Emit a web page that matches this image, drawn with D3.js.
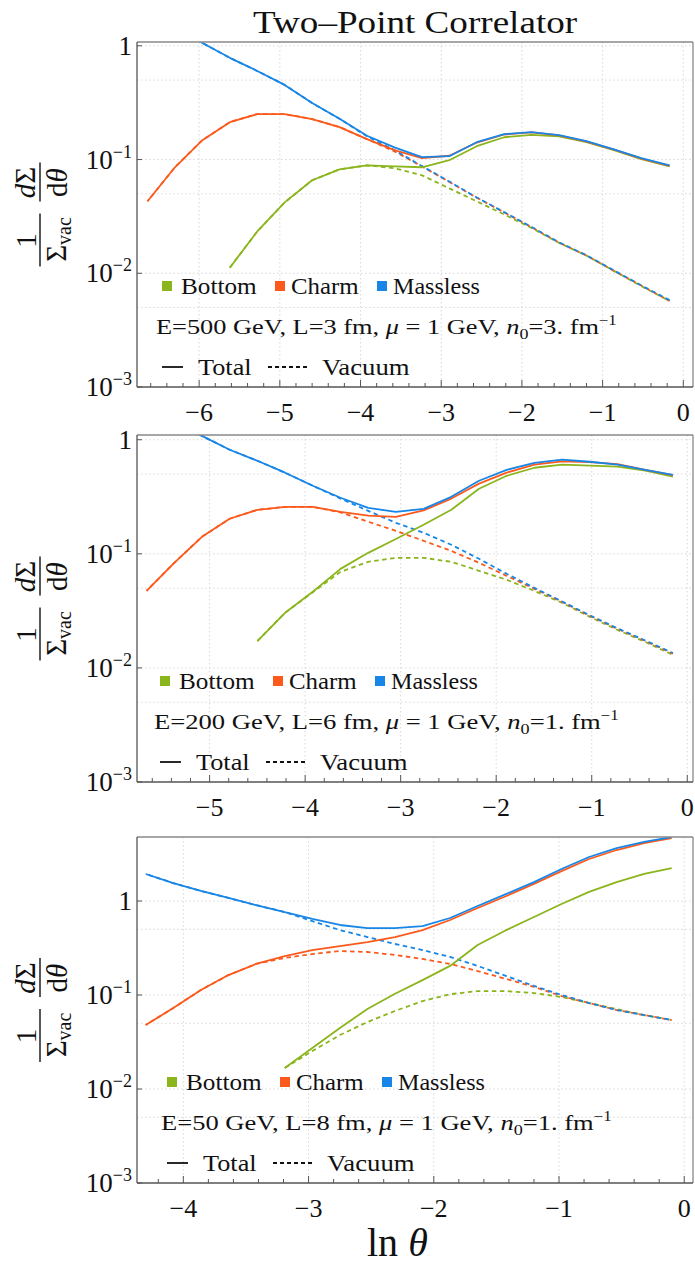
<!DOCTYPE html>
<html>
<head>
<meta charset="utf-8">
<script src="https://cdn.jsdelivr.net/npm/d3@7"></script>
<style>
body { margin: 0; background: #fff; }
svg { display: block; }
</style>
</head>
<body>
<script>
// ln(theta) sample points, one list per panel
var x1 = [-6.64, -6.30, -5.96, -5.62, -5.28, -4.94, -4.60, -4.26, -3.92, -3.58, -3.24, -2.90, -2.56, -2.22, -1.88, -1.54, -1.20, -0.86, -0.52, -0.17];
var x2 = [-5.66, -5.37, -5.08, -4.79, -4.50, -4.21, -3.92, -3.63, -3.34, -3.05, -2.76, -2.47, -2.18, -1.89, -1.60, -1.31, -1.02, -0.73, -0.44, -0.15];
var x3 = [-4.30, -4.08, -3.86, -3.64, -3.42, -3.19, -2.97, -2.75, -2.53, -2.31, -2.09, -1.87, -1.65, -1.42, -1.20, -0.98, -0.76, -0.54, -0.32, -0.10];

// E = 500 GeV, L = 3 fm
var bottomTotal1   = [null, null, null, 0.0112, 0.0233, 0.042, 0.0657, 0.082, 0.089, 0.087, 0.0855, 0.0986, 0.131, 0.157, 0.165, 0.160, 0.142, 0.121, 0.101, 0.087];
var bottomVac1     = [null, null, null, 0.0112, 0.0233, 0.042, 0.0657, 0.082, 0.089, 0.0838, 0.0727, 0.0558, 0.0429, 0.0329, 0.0250, 0.0185, 0.0143, 0.0105, 0.0077, 0.0057];
var charmTotal1    = [0.043, 0.0855, 0.148, 0.213, 0.251, 0.251, 0.227, 0.193, 0.151, 0.121, 0.103, 0.108, 0.141, 0.166, 0.173, 0.163, 0.144, 0.122, 0.102, 0.088];
var charmVac1      = [0.043, 0.0855, 0.148, 0.213, 0.251, 0.251, 0.227, 0.193, 0.151, 0.118, 0.0870, 0.0636, 0.0462, 0.0343, 0.0254, 0.0186, 0.0143, 0.0105, 0.0078, 0.0057];
var masslessTotal1 = [2.21, 1.53, 1.06, 0.784, 0.601, 0.453, 0.314, 0.228, 0.162, 0.128, 0.105, 0.107, 0.142, 0.167, 0.174, 0.164, 0.145, 0.123, 0.103, 0.089];
var masslessVac1   = [2.21, 1.53, 1.06, 0.784, 0.601, 0.453, 0.314, 0.228, 0.160, 0.121, 0.0877, 0.0641, 0.0464, 0.0345, 0.0255, 0.0187, 0.0144, 0.0106, 0.0078, 0.0058];

// E = 200 GeV, L = 6 fm
var bottomTotal2   = [null, null, null, null, 0.0172, 0.0304, 0.0465, 0.0738, 0.102, 0.135, 0.180, 0.243, 0.372, 0.483, 0.568, 0.604, 0.592, 0.580, 0.535, 0.474];
var bottomVac2     = [null, null, null, null, 0.0172, 0.0304, 0.0460, 0.0695, 0.0851, 0.0922, 0.0922, 0.0851, 0.0710, 0.0592, 0.0473, 0.0372, 0.0280, 0.0215, 0.0169, 0.0130];
var charmTotal2    = [0.0473, 0.0834, 0.141, 0.203, 0.243, 0.258, 0.258, 0.233, 0.216, 0.211, 0.240, 0.305, 0.412, 0.515, 0.605, 0.645, 0.635, 0.610, 0.545, 0.490];
var charmVac2      = [0.0473, 0.0834, 0.141, 0.203, 0.243, 0.258, 0.258, 0.231, 0.191, 0.159, 0.130, 0.106, 0.0834, 0.0641, 0.0493, 0.0379, 0.0286, 0.0220, 0.0172, 0.0133];
var masslessTotal2 = [1.95, 1.44, 1.08, 0.817, 0.654, 0.514, 0.395, 0.310, 0.253, 0.233, 0.248, 0.316, 0.437, 0.545, 0.628, 0.668, 0.641, 0.604, 0.545, 0.493];
var masslessVac2   = [1.95, 1.44, 1.08, 0.817, 0.654, 0.514, 0.395, 0.305, 0.238, 0.187, 0.153, 0.120, 0.0904, 0.0668, 0.0503, 0.0382, 0.0289, 0.0222, 0.0174, 0.0135];

// E = 50 GeV, L = 8 fm
var bottomTotal3   = [null, null, null, null, null, 0.0167, 0.0273, 0.0446, 0.0710, 0.103, 0.144, 0.204, 0.340, 0.491, 0.676, 0.929, 1.25, 1.59, 1.94, 2.24];
var bottomVac3     = [null, null, null, null, null, 0.0167, 0.0254, 0.0375, 0.0516, 0.0676, 0.0863, 0.102, 0.110, 0.110, 0.105, 0.0952, 0.0822, 0.0710, 0.0612, 0.0542];
var charmTotal3    = [0.048, 0.0728, 0.113, 0.163, 0.214, 0.260, 0.301, 0.332, 0.366, 0.414, 0.491, 0.628, 0.843, 1.13, 1.52, 2.08, 2.80, 3.49, 4.14, 4.68];
var charmVac3      = [0.048, 0.0728, 0.113, 0.163, 0.214, 0.248, 0.273, 0.294, 0.287, 0.267, 0.242, 0.214, 0.180, 0.148, 0.122, 0.0975, 0.0822, 0.0692, 0.0612, 0.0542];
var masslessTotal3 = [1.94, 1.55, 1.28, 1.08, 0.906, 0.764, 0.644, 0.556, 0.516, 0.516, 0.542, 0.660, 0.885, 1.19, 1.59, 2.19, 2.94, 3.66, 4.25, 4.80];
var masslessVac3   = [1.94, 1.55, 1.28, 1.08, 0.906, 0.764, 0.612, 0.491, 0.414, 0.349, 0.301, 0.254, 0.204, 0.159, 0.125, 0.100, 0.0822, 0.0692, 0.0612, 0.0542];

var xTicks1 = [-6, -5, -4, -3, -2, -1, 0];
var xTicks2 = [-5, -4, -3, -2, -1, 0];
var xTicks3 = [-4, -3, -2, -1, 0];
var yDecades = [0, -1, -2, -3];

var species = ["Bottom", "Charm", "Massless"];
var energies = ["500", "200", "50"];
var lengths = ["3", "6", "8"];
var densities = ["3.", "1.", "1."];

var colors = { Bottom: "#8bb51c", Charm: "#fb5a1c", Massless: "#1886e6" };

var width = 695, height = 1266;
var frameLeft = 137, frameRight = 693;
var serif = "'Liberation Serif', 'DejaVu Serif', serif";

var panels = [
    { top: 42, bottom: 387, xDomain: [-6.77, 0.12], yMax: 1.08, xs: x1, xTicks: xTicks1, lx: 162, pw: 461,
      series: [[bottomTotal1, bottomVac1], [charmTotal1, charmVac1], [masslessTotal1, masslessVac1]] },
    { top: 435, bottom: 782, xDomain: [-5.76, 0.06], yMax: 1.1, xs: x2, xTicks: xTicks2, lx: 160, pw: 465,
      series: [[bottomTotal2, bottomVac2], [charmTotal2, charmVac2], [masslessTotal2, masslessVac2]] },
    { top: 837, bottom: 1183, xDomain: [-4.37, 0.07], yMax: 4.8, xs: x3, xTicks: xTicks3, lx: 167, pw: 451,
      series: [[bottomTotal3, bottomVac3], [charmTotal3, charmVac3], [masslessTotal3, masslessVac3]] }
];

var svg = d3.select("body").append("svg")
    .attr("width", width)
    .attr("height", height)
    .attr("font-family", serif)
    .style("font-family", serif)
    .attr("fill", "#111");

// stretch a text horizontally so it spans w pixels from x0
function fitWidth(t, x0, w) {
    var bw = t.node().getBBox().width;
    var k = w / bw;
    t.attr("transform", "translate(" + x0 + ",0) scale(" + k + ",1) translate(" + (-x0) + ",0)");
}

var title = svg.append("text")
    .attr("x", 253).attr("y", 33)
    .style("font-size", "31px")
    .text("Two\u2013Point Correlator");
fitWidth(title, 253, 325);

panels.forEach(function(p, pi) {
    var x = d3.scaleLinear().domain(p.xDomain).range([frameLeft, frameRight]);
    var y = d3.scaleLog().domain([1e-3, p.yMax]).range([p.bottom, p.top]);

    var g = svg.append("g");

    g.append("clipPath")
        .attr("id", "clip" + pi)
        .append("rect")
        .attr("x", frameLeft).attr("y", p.top)
        .attr("width", frameRight - frameLeft)
        .attr("height", p.bottom - p.top);

    // dotted grid
    var gridY = [1, 0.5, 0.1, 0.05, 0.01, 0.005];
    g.selectAll(".gy").data(gridY).enter().append("line")
        .attr("x1", frameLeft).attr("x2", frameRight)
        .attr("y1", d => y(d)).attr("y2", d => y(d))
        .attr("stroke", "#d4d4d4").attr("stroke-width", 0.9)
        .attr("stroke-dasharray", "1.5,2.5");
    g.selectAll(".gx").data(p.xTicks).enter().append("line")
        .attr("x1", d => x(d)).attr("x2", d => x(d))
        .attr("y1", p.top).attr("y2", p.bottom)
        .attr("stroke", "#d4d4d4").attr("stroke-width", 0.9)
        .attr("stroke-dasharray", "1.5,2.5");

    // curves: vacuum dashed underneath, totals on top
    var plot = g.append("g").attr("clip-path", "url(#clip" + pi + ")");
    function lineFor(vals) {
        return d3.line()
            .defined((d, i) => vals[i] != null)
            .x((d, i) => x(p.xs[i]))
            .y((d, i) => y(vals[i]))(vals);
    }
    p.series.forEach(function(s, si) {
        plot.append("path")
            .attr("d", lineFor(s[1]))
            .attr("fill", "none")
            .attr("stroke", colors[species[si]])
            .attr("stroke-width", 1.8)
            .attr("stroke-dasharray", "4.5,3.5")
            .attr("stroke-dashoffset", si * 2.5);
    });
    p.series.forEach(function(s, si) {
        plot.append("path")
            .attr("d", lineFor(s[0]))
            .attr("fill", "none")
            .attr("stroke", colors[species[si]])
            .attr("stroke-width", 1.8)
            .attr("stroke-linejoin", "round");
    });

    // frame
    g.append("line").attr("x1", frameLeft).attr("x2", frameRight).attr("y1", p.top).attr("y2", p.top)
        .attr("stroke", "#888").attr("stroke-width", 1.3);
    g.append("line").attr("x1", frameRight).attr("x2", frameRight).attr("y1", p.top).attr("y2", p.bottom)
        .attr("stroke", "#888").attr("stroke-width", 1.3);
    g.append("line").attr("x1", frameLeft).attr("x2", frameRight).attr("y1", p.bottom).attr("y2", p.bottom)
        .attr("stroke", "#555").attr("stroke-width", 1.3);
    g.append("line").attr("x1", frameLeft).attr("x2", frameLeft).attr("y1", p.top).attr("y2", p.bottom)
        .attr("stroke", "#555").attr("stroke-width", 1.3);

    // x ticks: majors at integers, minors every 0.2
    var minor = d3.range(Math.ceil(p.xDomain[0] * 5), Math.floor(p.xDomain[1] * 5) + 1).map(d => d / 5);
    g.selectAll(".mt").data(minor).enter().append("line")
        .attr("x1", d => x(d)).attr("x2", d => x(d))
        .attr("y1", p.bottom).attr("y2", d => p.bottom - (Math.abs(d - Math.round(d)) < 1e-6 ? 7 : 4))
        .attr("stroke", "#555").attr("stroke-width", 1);
    g.selectAll(".xl").data(p.xTicks).enter().append("text")
        .attr("x", d => x(d)).attr("y", p.bottom + 34)
        .attr("text-anchor", "middle")
        .style("font-size", "26px")
        .text(d => d < 0 ? "\u2212" + (-d) : d);

    // y ticks at decades
    g.selectAll(".yt").data(yDecades).enter().append("line")
        .attr("x1", frameLeft).attr("x2", frameLeft + 5)
        .attr("y1", d => y(Math.pow(10, d))).attr("y2", d => y(Math.pow(10, d)))
        .attr("stroke", "#555").attr("stroke-width", 1);
    yDecades.forEach(function(k) {
        var t = g.append("text")
            .attr("x", 132).attr("y", y(Math.pow(10, k)) + 9)
            .attr("text-anchor", "end")
            .style("font-size", "27px");
        if (k === 0) {
            t.text("1");
        } else {
            t.append("tspan").text("10");
            t.append("tspan").attr("dy", -11).style("font-size", "18px").text("\u2212" + (-k));
        }
    });

    // y-axis title
    var cy = (p.top + p.bottom) / 2;
    var yl = svg.append("g").attr("transform", "translate(40," + cy + ") rotate(-90)");
    yl.append("line").attr("x1", -52).attr("x2", 1).attr("y1", 0).attr("y2", 0)
        .attr("stroke", "#111").attr("stroke-width", 1.4);
    yl.append("line").attr("x1", 13).attr("x2", 52).attr("y1", 0).attr("y2", 0)
        .attr("stroke", "#111").attr("stroke-width", 1.4);
    yl.append("text").attr("x", -26).attr("y", -4).attr("text-anchor", "middle")
        .style("font-size", "29px").text("1");
    var den = yl.append("text").attr("x", -25).attr("y", 26).attr("text-anchor", "middle")
        .style("font-size", "29px");
    den.append("tspan").text("\u03a3");
    den.append("tspan").attr("dy", 5).style("font-size", "20px").text("vac");
    var num = yl.append("text").attr("x", 32).attr("y", -5).attr("text-anchor", "middle")
        .style("font-size", "29px");
    num.append("tspan").style("font-style", "italic").text("d");
    num.append("tspan").text("\u03a3");
    var den2 = yl.append("text").attr("x", 32).attr("y", 27).attr("text-anchor", "middle")
        .style("font-size", "29px");
    den2.append("tspan").text("d");
    den2.append("tspan").style("font-style", "italic").text("\u03b8");

    // legend: species swatches
    var rowA = p.bottom - 101, rowB = p.bottom - 61, rowC = p.bottom - 20;
    var swOff = [0, 113, 215], txOff = [19, 129, 231], txW = [76, 68, 87];
    species.forEach(function(name, si) {
        g.append("rect")
            .attr("x", p.lx + swOff[si]).attr("y", rowA - 5)
            .attr("width", 10).attr("height", 10)
            .attr("fill", colors[name]);
        var t = g.append("text")
            .attr("x", p.lx + txOff[si]).attr("y", rowA + 8)
            .style("font-size", "24px")
            .text(name);
        fitWidth(t, p.lx + txOff[si], txW[si]);
    });

    // parameter line
    var pt = g.append("text")
        .attr("x", p.lx - 6).attr("y", rowB + 8)
        .style("font-size", "22px");
    pt.append("tspan").text("E=" + energies[pi] + " GeV, L=" + lengths[pi] + " fm, ");
    pt.append("tspan").style("font-style", "italic").text("\u03bc");
    pt.append("tspan").text(" = 1 GeV, ");
    pt.append("tspan").style("font-style", "italic").text("n");
    pt.append("tspan").attr("dy", 5).style("font-size", "15px").text("0");
    pt.append("tspan").attr("dy", -5).text("=" + densities[pi] + " fm");
    pt.append("tspan").attr("dy", -9).style("font-size", "14px").text("\u22121");
    fitWidth(pt, p.lx - 6, p.pw);

    // line-style key
    g.append("line").attr("x1", p.lx).attr("x2", p.lx + 21).attr("y1", rowC).attr("y2", rowC)
        .attr("stroke", "#111").attr("stroke-width", 1.8);
    var tt = g.append("text").attr("x", p.lx + 36).attr("y", rowC + 8)
        .style("font-size", "24px").text("Total");
    fitWidth(tt, p.lx + 36, 54);
    g.append("line").attr("x1", p.lx + 106).attr("x2", p.lx + 148).attr("y1", rowC).attr("y2", rowC)
        .attr("stroke", "#111").attr("stroke-width", 1.8)
        .attr("stroke-dasharray", "4,3");
    var tv = g.append("text").attr("x", p.lx + 160).attr("y", rowC + 8)
        .style("font-size", "24px").text("Vacuum");
    fitWidth(tv, p.lx + 160, 88);
});

// x-axis title
var xl = svg.append("text")
    .attr("x", 367).attr("y", 1256)
    .style("font-size", "40px");
xl.append("tspan").text("ln ");
xl.append("tspan").style("font-style", "italic").text("\u03b8");
</script>
</body>
</html>
